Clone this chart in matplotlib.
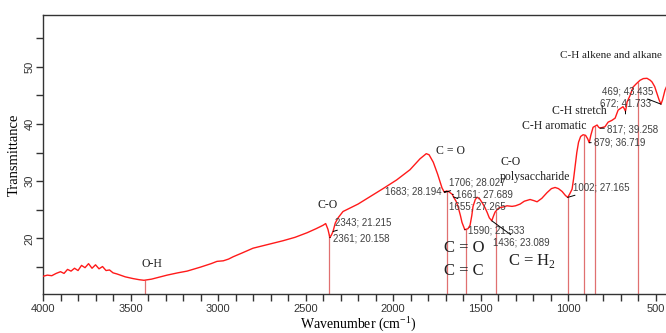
import matplotlib
matplotlib.use('Agg')
import matplotlib.pyplot as plt
from matplotlib.ticker import MultipleLocator
import numpy as np

plt.rcParams['font.family'] = 'Liberation Sans'
plt.rcParams['mathtext.fontset'] = 'custom'
plt.rcParams['mathtext.rm'] = 'Liberation Serif'

# FTIR spectrum (wavenumber cm-1, transmittance)
wavenumber = [4000, 3975, 3950, 3925, 3900, 3880, 3860, 3840, 3820, 3800,
              3780, 3760, 3740, 3720, 3700, 3680, 3660, 3640, 3620, 3600,
              3577, 3530, 3486, 3450, 3423, 3380, 3330, 3291, 3230, 3177,
              3100, 3040, 3006, 2970, 2940, 2914, 2860, 2800, 2720, 2629,
              2560, 2491, 2440, 2400, 2385, 2372, 2361, 2352, 2343, 2330,
              2314, 2286, 2200, 2120, 2057, 1980, 1903, 1846, 1810, 1794,
              1770, 1745, 1720, 1706, 1695, 1683, 1661, 1655, 1640, 1629,
              1615, 1606, 1590, 1572, 1560, 1550, 1543, 1530, 1520, 1505,
              1492, 1475, 1463, 1450, 1436, 1425, 1417, 1400, 1389, 1370,
              1349, 1320, 1300, 1274, 1250, 1217, 1195, 1177, 1150, 1120,
              1095, 1074, 1055, 1034, 1015, 1002, 990, 977, 968, 960,
              950, 940, 928, 914, 900, 888, 879, 870, 857, 845,
              834, 825, 817, 800, 789, 771, 750, 731, 714, 700,
              686, 678, 672, 668, 663, 645, 629, 610, 589, 570,
              549, 530, 520, 505, 492, 480, 469, 460, 446, 430, 410]
transmittance = [13.4, 13.6, 13.5, 13.9, 14.2, 13.9, 14.6, 14.3, 14.8, 14.4,
                 15.3, 14.9, 15.6, 14.8, 15.4, 14.7, 15.1, 14.4, 14.5, 14.0,
                 13.8, 13.3, 13.0, 12.8, 12.7, 12.9, 13.3, 13.6, 14.0, 14.3,
                 15.0, 15.6, 16.0, 16.1, 16.4, 16.8, 17.5, 18.3, 18.9, 19.6,
                 20.2, 21.0, 21.7, 22.3, 22.6, 21.6, 20.158, 20.6, 21.215, 22.7,
                 23.6, 24.7, 26.0, 27.5, 28.7, 30.2, 32.0, 33.9, 34.8, 34.6,
                 33.3, 31.2, 28.8, 28.027, 28.3, 28.194, 27.689, 27.265, 26.5, 25.6,
                 24.0, 22.8, 21.533, 21.7, 22.3, 24.0, 25.6, 26.8, 27.2, 26.9,
                 26.3, 25.4, 24.6, 23.6, 23.089, 24.0, 24.6, 25.2, 25.4, 25.5,
                 25.7, 25.6, 25.7, 26.0, 26.5, 26.8, 26.6, 26.4, 27.0, 28.0,
                 28.7, 28.9, 28.7, 28.2, 27.5, 27.165, 27.8, 28.6, 30.5, 32.5,
                 35.0, 36.8, 37.8, 38.1, 38.0, 37.4, 36.719, 38.0, 39.4, 39.6,
                 39.8, 39.4, 39.258, 39.4, 39.5, 40.3, 40.6, 41.0, 42.4, 42.7,
                 43.0, 42.6, 42.2, 42.8, 43.8, 45.0, 46.4, 47.0, 47.6, 47.9,
                 47.95, 47.6, 47.3, 46.5, 45.3, 44.2, 43.435, 44.2, 45.9, 47.0, 47.5]

# thin marker lines dropped to the axis
band_lines = [3417, 2366, 1692, 1583, 1412, 1000, 909, 846, 600]

# peak labels: (wavenumber, value, text x, text y, alignment)
peak_wn = [2343, 2361, 1683, 1706, 1661, 1655, 1590, 1436, 1002, 879, 817, 672, 469]
peak_val = [21.215, 20.158, 28.194, 28.027, 27.689, 27.265, 21.533, 23.089,
            27.165, 36.719, 39.258, 41.733, 43.435]
label_x = [2331, 2343, 1724, 1680, 1640, 1680, 1572, 1429, 972, 852, 777, 817, 806]
label_y = [22.8, 20.0, 28.2, 29.7, 27.6, 25.6, 21.4, 19.3, 28.9, 36.7, 39.1, 43.6, 45.7]
label_ha = ['left', 'left', 'right', 'left', 'left', 'left', 'left', 'left',
            'left', 'left', 'left', 'left', 'left']

# group assignments (serif text)
group_text = ['O-H', 'C-O', 'C = O', 'C-O', 'polysaccharide', 'C-H aromatic',
              'C-H stretch', 'C-H alkene and alkane']
group_x = [3377, 2371, 1674, 1326, 1189, 1080, 937, 1045]
group_y = [15.5, 25.9, 35.3, 33.4, 30.8, 39.6, 42.2, 51.9]
group_ha = ['center', 'center', 'center', 'center', 'center', 'center', 'center', 'left']
group_size = [8.5, 8.5, 8.5, 8.5, 8.5, 8.5, 8.5, 8]

big_text = ['C = O', 'C = C', r'C = H$_\mathregular{2}$']
big_x = [1709, 1709, 1343]
big_y = [18.4, 14.3, 16.0]

wn = np.array(wavenumber)
tr = np.array(transmittance)

fig = plt.figure(figsize=(6.66, 3.33), dpi=100)
ax = fig.add_axes([0.0646, 0.117, 0.946, 0.838])

ymin, ymax = 10.3, 59
ax.plot(wn, tr, color='#ff1a1a', lw=1.0, zorder=3)

# band lines from the axis up to the curve
order = np.argsort(wn)
tops = np.interp(band_lines, wn[order], tr[order])
ax.vlines(band_lines, ymin, tops, color='#e07070', lw=0.9, zorder=2)

for w, v, tx, ty, ha in zip(peak_wn, peak_val, label_x, label_y, label_ha):
    ax.annotate(f'{w}; {v:.3f}', xy=(w, v), xytext=(tx, ty), ha=ha, va='center',
                fontsize=7, color='#404040',
                arrowprops=dict(arrowstyle='-', color='black', lw=0.7,
                                shrinkA=0, shrinkB=0))

for t, x, y, ha, fs in zip(group_text, group_x, group_y, group_ha, group_size):
    ax.text(x, y, t, ha=ha, va='center', fontsize=fs,
            family='Liberation Serif', color='#222222')

for t, x, y in zip(big_text, big_x, big_y):
    ax.text(x, y, t, ha='left', va='center', fontsize=12,
            family='Liberation Serif', color='#222222')

ax.set_xlim(4000, 400)
ax.set_ylim(ymin, ymax)
ax.set_xticks(range(4000, 499, -500))
ax.set_yticks([20, 30, 40, 50])
ax.xaxis.set_minor_locator(MultipleLocator(100))
ax.yaxis.set_minor_locator(MultipleLocator(5))
ax.tick_params(which='both', direction='out', length=5, width=1,
               color='#333333', labelsize=8, labelcolor='#333333')
ax.tick_params(axis='x', pad=2)
ax.tick_params(axis='y', pad=1)
plt.setp(ax.get_yticklabels(), rotation=90, va='center')
for s in ax.spines.values():
    s.set_color('#333333')
    s.set_linewidth(1)

ax.set_xlabel('Wavenumber (cm$^{-1}$)', family='Liberation Serif',
              fontsize=10, labelpad=0)
ax.set_ylabel('Transmittance', family='Liberation Serif', fontsize=10.5,
              labelpad=3)

fig.savefig('out.png', dpi=100)
